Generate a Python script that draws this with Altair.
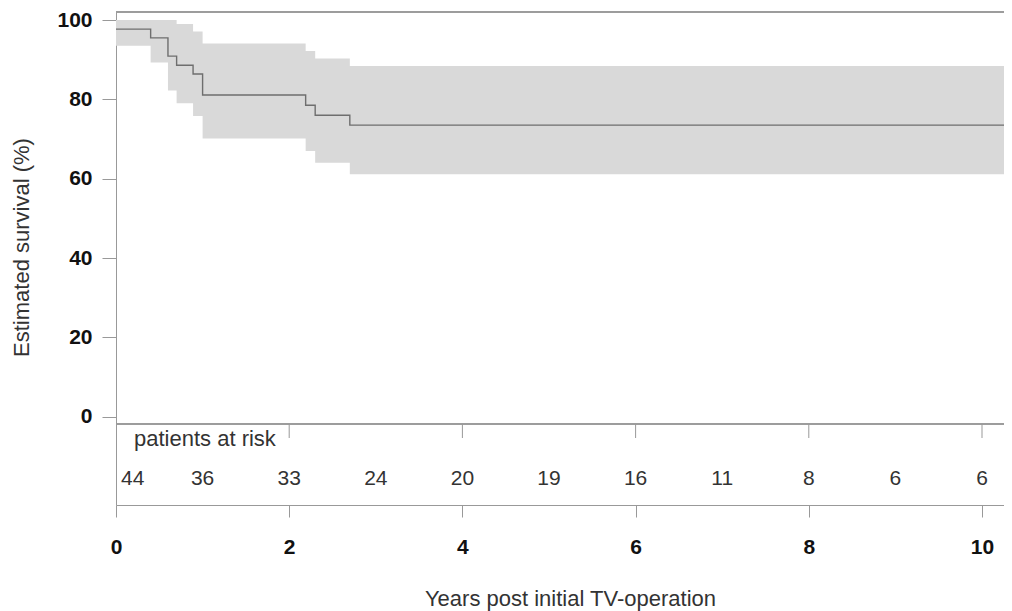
import altair as alt
import pandas as pd

# Kaplan-Meier estimate and 95% confidence band
km_time = [0.0, 0.40, 0.60, 0.70, 0.89, 1.00, 2.19, 2.30, 2.70, 10.26]
km_surv = [97.7, 95.5, 90.9, 88.6, 86.4, 81.1, 78.5, 76.0, 73.5, 73.5]
km_upper = [100.0, 100.0, 100.0, 99.0, 97.1, 94.1, 92.2, 90.3, 88.4, 88.4]
km_lower = [93.5, 89.3, 82.2, 79.0, 75.8, 70.1, 67.0, 64.0, 61.1, 61.1]

# Patients at risk table
risk_years = [0, 1, 2, 3, 4, 5, 6, 7, 8, 9, 10]
risk_counts = [44, 36, 33, 24, 20, 19, 16, 11, 8, 6, 6]

x_ticks = [0, 2, 4, 6, 8, 10]
y_ticks = [0, 20, 40, 60, 80, 100]
table_ticks = [2, 4, 6, 8, 10]

FONT = "Liberation Sans"
AX = "#999999"

km = pd.DataFrame({"time": km_time, "surv": km_surv, "upper": km_upper, "lower": km_lower})
risk = pd.DataFrame({"year": risk_years, "n": risk_counts})
tt = pd.DataFrame({"year": table_ticks})

W, H = 888, 493
xs = alt.Scale(domain=[0, 10.254], nice=False, zero=False)
ys = alt.Scale(domain=[-22.26, 102.02], nice=False, zero=False)

x_axis = alt.Axis(
    values=x_ticks, format="d", orient="bottom", tickSize=12, labelPadding=36,
    labelBaseline="alphabetic", labelFontSize=21, labelFontWeight="bold",
    labelColor="#111111", labelFont=FONT, labelFlush=False,
    title="Years post initial TV-operation", titleFont=FONT, titleFontSize=22,
    titleFontWeight="normal", titleColor="#333333", titleX=454, titleY=100,
    titleBaseline="alphabetic", domainColor=AX, tickColor=AX, grid=False,
)
y_axis = alt.Axis(
    values=y_ticks, format="d", orient="left", tickSize=14, labelPadding=10,
    labelFontSize=21, labelFontWeight="bold", labelColor="#111111",
    labelFont=FONT, labelFlush=False,
    title="Estimated survival (%)", titleFont=FONT, titleFontSize=22,
    titleFontWeight="normal", titleColor="#333333", titleX=-88, titleY=235,
    titleBaseline="alphabetic", domainColor=AX, tickColor=AX, grid=False,
)

band = alt.Chart(km).mark_area(interpolate="step-after", color="#d9d9d9", opacity=1, clip=True).encode(
    x=alt.X("time:Q", scale=xs, axis=x_axis),
    y=alt.Y("lower:Q", scale=ys, axis=y_axis),
    y2="upper:Q",
)
line = alt.Chart(km).mark_line(interpolate="step-after", color="#6e6e6e", strokeWidth=1.4, clip=True).encode(
    x=alt.X("time:Q", scale=xs),
    y=alt.Y("surv:Q", scale=ys),
)

top_border = alt.Chart(tt).mark_rule(color=AX, strokeWidth=1).encode(
    x=alt.value(0), x2=alt.value(W), y=alt.value(0)
)
separator = alt.Chart(tt).mark_rule(color=AX, strokeWidth=1).encode(
    x=alt.value(0), x2=alt.value(W), y=alt.value(412)
)
table_tick_marks = alt.Chart(tt).mark_rule(color=AX, strokeWidth=1).encode(
    x=alt.X("year:Q", scale=xs), y=alt.value(412), y2=alt.value(426)
)
risk_label = alt.Chart(tt).transform_filter("datum.year == 2").mark_text(
    text="patients at risk", align="left", baseline="alphabetic",
    font=FONT, fontSize=22, color="#333333",
).encode(x=alt.value(18), y=alt.value(434))

risk_first = alt.Chart(risk).transform_filter("datum.year == 0").mark_text(
    align="left", baseline="alphabetic", dx=5, font=FONT, fontSize=21, color="#333333"
).encode(x=alt.X("year:Q", scale=xs), y=alt.value(473), text="n:Q")
risk_rest = alt.Chart(risk).transform_filter("datum.year > 0").mark_text(
    align="center", baseline="alphabetic", font=FONT, fontSize=21, color="#333333"
).encode(x=alt.X("year:Q", scale=xs), y=alt.value(473), text="n:Q")

chart = alt.layer(
    band, line, top_border, separator, table_tick_marks, risk_label, risk_first, risk_rest
).properties(
    width=W, height=H,
    autosize=alt.AutoSizeParams(type="none"),
    padding={"left": 108, "top": 4, "right": 0, "bottom": 106},
    background="white",
).configure_view(stroke=None).configure_axis(grid=False)

chart.save("out.html", embed_options={"renderer": "svg", "actions": False})
